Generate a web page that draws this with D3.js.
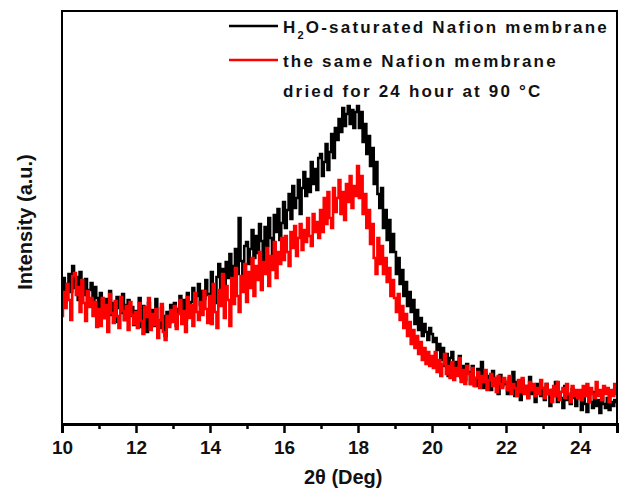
<!DOCTYPE html>
<html>
<head>
<meta charset="utf-8">
<script src="https://cdn.jsdelivr.net/npm/d3@7"></script>
<style>
  body { margin: 0; background: #fff; }
  svg text { font-family: "Liberation Sans", Arial, sans-serif; font-weight: bold; }
</style>
</head>
<body>
<div id="chart"></div>
<script>
// 2-theta grid, 10 to 25 deg in steps of 0.05
const twoTheta = d3.range(0, 301).map(i => +(10 + i * 0.05).toFixed(2));

// H2O-saturated membrane (a.u.), 20 readings per degree
const wetValues = [
  128,146,122,140,150,132,158,136,147,124,152,138,129,145,118,134,141,121,137,126,
  112,131,118,106,125,114,133,109,121,102,127,116,111,130,104,119,124,108,117,99,
  113,104,126,97,118,110,92,121,106,114,98,125,103,96,116,108,88,112,101,119,
  106,121,98,115,128,110,124,104,131,117,122,136,113,128,140,119,133,125,144,129,
  130,152,138,121,147,160,135,155,128,162,146,170,141,158,175,150,206,163,148,178,
  182,160,175,194,166,188,171,200,183,163,197,178,206,186,170,209,192,215,184,201,
  222,196,214,230,205,238,216,226,244,210,236,252,228,245,232,262,240,255,234,266,
  270,248,262,280,254,272,290,266,296,284,305,292,316,298,310,318,300,314,296,312,
  318,296,312,282,300,270,288,258,276,240,262,230,216,236,196,214,184,204,172,190,
  172,150,166,140,154,128,142,118,132,112,124,100,114,94,106,88,100,92,84,96,
  90,82,86,74,80,64,76,58,70,48,66,72,54,62,50,68,46,58,44,60,
  52,40,58,46,38,55,44,62,36,50,42,48,34,53,40,46,30,49,38,44,
  40,30,46,34,52,28,42,36,24,44,32,38,26,47,30,36,22,40,34,28,
  36,24,40,30,18,34,28,42,22,32,26,16,38,24,30,20,35,26,18,30,
  26,14,30,20,12,28,22,16,32,18,24,11,28,20,16,26,14,22,18,24,
  22
];

// same membrane dried 24 h at 90 C (a.u.)
const dryValues = [
  108,132,116,140,124,104,148,151,129,137,112,144,121,103,133,117,126,108,122,97,
  115,98,126,106,119,92,130,111,101,123,108,96,127,113,104,118,94,122,109,100,
  112,96,121,103,90,117,107,126,94,110,99,115,86,104,120,92,84,108,97,114,
  102,118,95,110,124,100,113,92,127,106,119,98,131,112,104,122,109,133,115,101,
  128,100,140,112,96,134,118,150,106,138,124,98,146,120,156,128,112,148,132,160,
  122,152,136,166,128,158,144,172,134,162,150,176,138,168,154,182,146,172,160,186,
  164,188,172,158,192,176,198,168,186,200,174,194,182,206,188,178,210,192,202,186,
  214,192,226,200,232,206,196,236,212,226,244,210,232,204,240,222,248,216,238,228,
  258,226,248,210,230,196,214,180,200,166,150,186,160,178,150,166,142,156,128,144,
  126,112,130,104,118,96,110,88,102,80,94,76,88,70,82,64,76,60,72,58,
  68,56,72,52,64,48,60,70,50,58,46,62,44,56,48,66,42,54,40,58,
  50,40,56,38,46,52,36,48,42,54,34,44,50,38,46,32,48,40,36,46,
  42,34,48,30,40,36,28,44,32,46,30,38,26,42,34,40,28,36,30,44,
  36,26,40,30,34,22,38,28,42,24,32,36,26,40,30,22,38,28,34,26,
  34,24,38,28,40,22,36,30,26,42,28,34,24,38,30,36,22,34,28,40,
  30
];

const majorTicks = [10, 12, 14, 16, 18, 20, 22, 24];
const minorTicks = [11, 13, 15, 17, 19, 21, 23, 25];

const width = 619;
const height = 490;
const margin = { top: 11, left: 62, bottom: 66, right: 2 };
const plotWidth = width - margin.left - margin.right;
const plotHeight = height - margin.top - margin.bottom;

const xScale = d3.scaleLinear().domain([10, 25]).range([0, plotWidth]);
const yScale = d3.scaleLinear().domain([0, 413]).range([plotHeight, 0]);

const svg = d3.select("#chart")
  .append("svg")
  .attr("width", width)
  .attr("height", height);

const plotG = svg.append("g")
  .attr("transform", `translate(${margin.left},${margin.top})`);

svg.append("clipPath").attr("id", "clip")
  .append("rect").attr("width", plotWidth).attr("height", plotHeight);

const line = d3.line()
  .x(d => xScale(d[0]))
  .y(d => yScale(d[1]))
  .curve(d3.curveStep);

const curvesG = plotG.append("g").attr("clip-path", "url(#clip)");

curvesG.append("path")
  .datum(twoTheta.map((t, i) => [t, wetValues[i]]))
  .attr("d", line)
  .attr("fill", "none")
  .attr("stroke", "#000")
  .attr("stroke-width", 2.6);

curvesG.append("path")
  .datum(twoTheta.map((t, i) => [t, dryValues[i]]))
  .attr("d", line)
  .attr("fill", "none")
  .attr("stroke", "#ff0000")
  .attr("stroke-width", 2.6);

// frame
plotG.append("rect")
  .attr("width", plotWidth)
  .attr("height", plotHeight)
  .attr("fill", "none")
  .attr("stroke", "#000")
  .attr("stroke-width", 2);

// bottom axis, major and minor ticks
const xAxis = d3.axisBottom(xScale)
  .tickValues(majorTicks)
  .tickSize(9)
  .tickPadding(8)
  .tickFormat(d3.format("d"));

const xAxisG = plotG.append("g")
  .attr("transform", `translate(0,${plotHeight})`)
  .call(xAxis);

xAxisG.select(".domain").attr("stroke-width", 3);
xAxisG.selectAll(".tick line").attr("stroke-width", 2.5);
xAxisG.selectAll(".tick text")
  .attr("font-size", 19)
  .attr("font-family", "Liberation Sans, Arial, sans-serif")
  .attr("font-weight", "bold")
  .attr("fill", "#111");

const xMinorG = plotG.append("g")
  .attr("transform", `translate(0,${plotHeight})`)
  .call(d3.axisBottom(xScale).tickValues(minorTicks).tickSize(5).tickFormat(""));
xMinorG.select(".domain").remove();
xMinorG.selectAll(".tick line").attr("stroke-width", 2.5);

// axis titles
svg.append("text")
  .attr("x", margin.left + xScale(17.6))
  .attr("y", 484)
  .attr("text-anchor", "middle")
  .attr("font-size", 20)
  .attr("fill", "#111")
  .text("2θ (Deg)");

svg.append("text")
  .attr("transform", `translate(32,${222}) rotate(-90)`)
  .attr("text-anchor", "middle")
  .attr("font-size", 20)
  .attr("fill", "#111")
  .text("Intensity (a.u.)");

// legend
const legend = svg.append("g");
const legendItems = [
  { color: "#000", y: 26 },
  { color: "#ff0000", y: 60 }
];
legend.selectAll("line")
  .data(legendItems)
  .enter()
  .append("line")
  .attr("x1", 229)
  .attr("x2", 278)
  .attr("y1", d => d.y)
  .attr("y2", d => d.y)
  .attr("stroke", d => d.color)
  .attr("stroke-width", 2.6);

const t1 = legend.append("text")
  .attr("x", 283).attr("y", 33)
  .attr("font-size", 17)
  .attr("letter-spacing", 2.2)
  .attr("fill", "#111");
t1.append("tspan").text("H");
t1.append("tspan").attr("font-size", 11).attr("dy", 6).text("2");
t1.append("tspan").attr("dy", -6).text("O-saturated Nafion membrane");

legend.append("text")
  .attr("x", 283).attr("y", 67)
  .attr("font-size", 17)
  .attr("letter-spacing", 2.2)
  .attr("fill", "#111")
  .text("the same Nafion membrane");

legend.append("text")
  .attr("x", 283).attr("y", 97)
  .attr("font-size", 17)
  .attr("letter-spacing", 2.2)
  .attr("fill", "#111")
  .text("dried for 24 hour at 90 °C");
</script>
</body>
</html>
